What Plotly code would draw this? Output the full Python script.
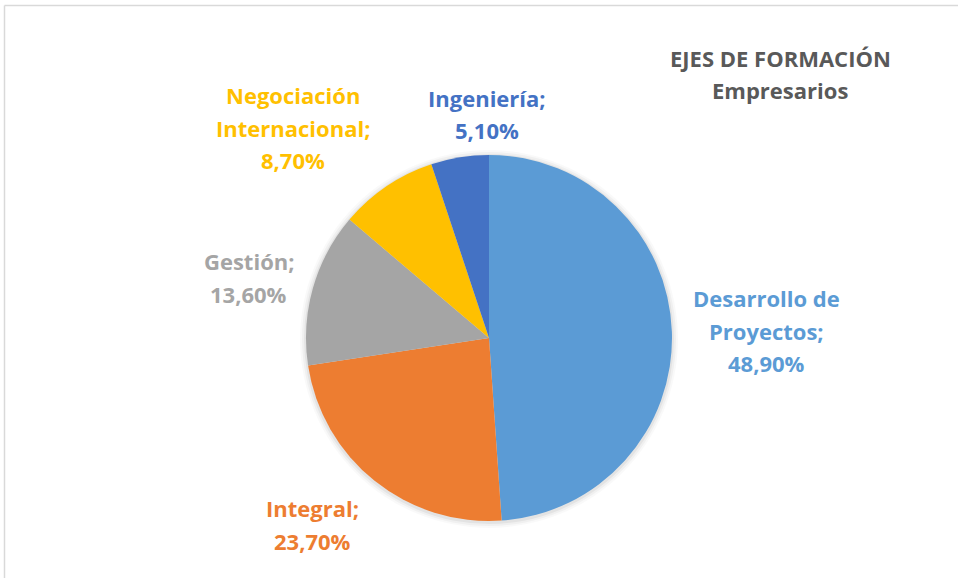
import plotly.graph_objects as go

W, H = 958, 578

categories = ["Desarrollo de Proyectos", "Integral", "Gestión", "Negociación Internacional", "Ingeniería"]
values = [48.9, 23.7, 13.6, 8.7, 5.1]
colors = ["#5B9BD5", "#ED7D31", "#A5A5A5", "#FFC000", "#4472C4"]
label_lines = [["Desarrollo de", "Proyectos;"], ["Integral;"], ["Gestión;"],
               ["Negociación", "Internacional;"], ["Ingeniería;"]]
title_lines = ["EJES DE FORMACIÓN", "Empresarios"]

# label anchor (center x, first line y) in pixels
label_pos = [(766, 298), (312, 508), (249, 261), (293, 95), (487, 98)]
line_gap = 32.5

FONT = "Open Sans, sans-serif"

def px(x):
    return x / W

def py(y):
    return 1 - y / H

cx, cy, r = 489, 338, 183

shapes = [
    dict(type="line", xref="paper", yref="paper", x0=px(4.5), x1=1.01, y0=py(5.5), y1=py(5.5),
         line=dict(color="#D9D9D9", width=1.5)),
    dict(type="line", xref="paper", yref="paper", x0=px(4.5), x1=px(4.5), y0=py(5.5), y1=-0.01,
         line=dict(color="#D9D9D9", width=1.5)),
]
# soft shadow around pie
for k, op in [(6, 0.025), (4, 0.035), (2, 0.05)]:
    shapes.append(dict(type="circle", xref="paper", yref="paper", layer="below",
                       x0=px(cx - r - k), x1=px(cx + r + k), y0=py(cy + r + k + 1), y1=py(cy - r - k + 1),
                       fillcolor=f"rgba(0,0,0,{op})", line=dict(width=0)))

fig = go.Figure(go.Pie(
    labels=categories, values=values, sort=False, direction="clockwise", rotation=0,
    marker=dict(colors=colors, line=dict(width=0)),
    textinfo="none", hoverinfo="label+percent", showlegend=False,
    domain=dict(x=[px(cx - r), px(cx + r)], y=[py(cy + r), py(cy - r)]),
))

annotations = []
for lines, v, c, (x0, y0) in zip(label_lines, values, colors, label_pos):
    pct = f"{v:.2f}".replace(".", ",") + "%"
    for i, t in enumerate(lines + [pct]):
        annotations.append(dict(
            x=px(x0), y=py(y0 + i * line_gap), xref="paper", yref="paper",
            text=f"<b>{t}</b>", showarrow=False, xanchor="center", yanchor="middle",
            font=dict(family=FONT, size=22, color=c)))

for i, t in enumerate(title_lines):
    annotations.append(dict(
        x=px(780), y=py(58 + i * 32), xref="paper", yref="paper",
        text=f"<b>{t}</b>", showarrow=False, xanchor="center", yanchor="middle",
        font=dict(family=FONT, size=22, color="#595959")))

fig.update_layout(
    width=W, height=H, margin=dict(l=0, r=0, t=0, b=0),
    paper_bgcolor="rgba(0,0,0,0)", plot_bgcolor="rgba(0,0,0,0)",
    annotations=annotations,
    shapes=shapes,
)

fig.write_html("out.html", config={"displayModeBar": False},
               post_script="document.body.style.margin='0';document.body.style.background='white';")
